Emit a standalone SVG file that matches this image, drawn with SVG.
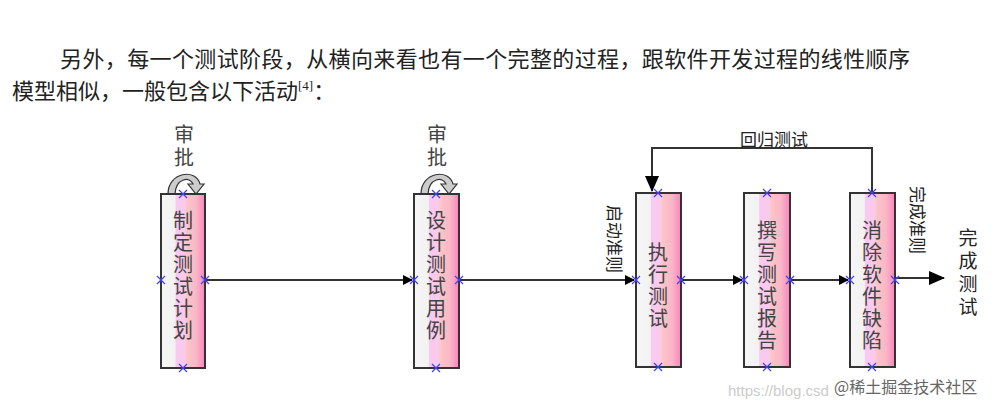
<svg xmlns="http://www.w3.org/2000/svg" width="1007" height="413" viewBox="0 0 1007 413">
<style>
.t{font-family:"Liberation Serif","Noto Sans CJK SC",serif;fill:#222}
.p{font-size:22px}
.n{font-size:20px;fill:#444;text-anchor:middle}
.box{fill:url(#g);stroke:#333;stroke-width:2}
.ln{stroke:#333;stroke-width:2;fill:none}
.x{stroke:#4040ff;stroke-width:1.2}
.lp{fill:#ccc;stroke:#333;stroke-width:1.2}
</style>
<defs>
<linearGradient id="g" x1="0" x2="1" y1="0" y2="0">
<stop offset="0" stop-color="#f6f6f6"/><stop offset="0.32" stop-color="#f2f2f2"/>
<stop offset="0.34" stop-color="#fac8f4"/><stop offset="0.55" stop-color="#f9cbe8"/>
<stop offset="0.6" stop-color="#fcc4c4"/><stop offset="0.8" stop-color="#fbb6c8"/>
<stop offset="1" stop-color="#f884bc"/></linearGradient>
<marker id="a" markerWidth="10" markerHeight="10" refX="9" refY="5" orient="auto" markerUnits="userSpaceOnUse" viewBox="0 0 10 10"><path d="M0,0L10,5L0,10z" fill="#000"/></marker>
<marker id="a2" markerWidth="16" markerHeight="16" refX="15" refY="8" orient="auto" markerUnits="userSpaceOnUse" viewBox="0 0 16 16"><path d="M0,1L16,8L0,15z" fill="#000"/></marker>
<g id="xm"><path class="x" d="M-4,-4L4,4M-4,4L4,-4"/></g>
</defs>
<text class="t p" x="60" y="67" textLength="850">另外，每一个测试阶段，从横向来看也有一个完整的过程，跟软件开发过程的线性顺序</text>
<text class="t p" x="12" y="99">模型相似，一般包含以下活动<tspan font-size="13" dy="-9">[4]</tspan><tspan dy="9">：</tspan></text>
<g id="connectors">
<path class="ln" d="M205,280H412" marker-end="url(#a)"/>
<path class="ln" d="M459,280H634" marker-end="url(#a)"/>
<path class="ln" d="M681,280H742" marker-end="url(#a)"/>
<path class="ln" d="M790,280H848" marker-end="url(#a)"/>
<path class="ln" d="M872,193V148H652V191" marker-end="url(#a2)"/>
<path class="ln" d="M895,278H944" marker-end="url(#a2)"/>
<path class="lp" d="M168,194C168,172 196,168 200,184L204,184L196,194L188,184L193,184C190,176 176,178 175,194Z"/>
<path class="lp" d="M421,194C421,172 449,168 453,184L457,184L449,194L441,184L446,184C443,176 429,178 428,194Z"/>
<text class="t" font-size="17" x="774" y="146" text-anchor="middle">回归测试</text>
<text class="t" font-size="17" fill="#333" transform="translate(608,205) rotate(90)">启动准则</text>
<text class="t" font-size="17" fill="#333" transform="translate(911,186) rotate(90)">完成准则</text>
<text class="t" font-size="19" fill="#444" x="968" y="245" text-anchor="middle"><tspan x="968">完</tspan><tspan x="968" dy="23">成</tspan><tspan x="968" dy="23">测</tspan><tspan x="968" dy="23">试</tspan></text>
<text class="t n" x="184" y="142"><tspan x="184">审</tspan><tspan x="184" dy="23">批</tspan></text>
<text class="t n" x="437" y="142"><tspan x="437">审</tspan><tspan x="437" dy="23">批</tspan></text>
</g>
<g id="n1"><rect class="box" x="161" y="194" width="44" height="174"/>
<text class="t n" x="183" y="228"><tspan x="183">制</tspan><tspan x="183" dy="22">定</tspan><tspan x="183" dy="22">测</tspan><tspan x="183" dy="22">试</tspan><tspan x="183" dy="22">计</tspan><tspan x="183" dy="22">划</tspan></text>
<use href="#xm" x="183" y="194"/><use href="#xm" x="183" y="368"/><use href="#xm" x="161" y="280"/><use href="#xm" x="205" y="280"/></g>
<g id="n2"><rect class="box" x="414" y="194" width="45" height="174"/>
<text class="t n" x="436" y="228"><tspan x="436">设</tspan><tspan x="436" dy="22">计</tspan><tspan x="436" dy="22">测</tspan><tspan x="436" dy="22">试</tspan><tspan x="436" dy="22">用</tspan><tspan x="436" dy="22">例</tspan></text>
<use href="#xm" x="436" y="194"/><use href="#xm" x="436" y="368"/><use href="#xm" x="414" y="280"/><use href="#xm" x="459" y="280"/></g>
<g id="n3"><rect class="box" x="636" y="193" width="45" height="174"/>
<text class="t n" x="658" y="260"><tspan x="658">执</tspan><tspan x="658" dy="22">行</tspan><tspan x="658" dy="22">测</tspan><tspan x="658" dy="22">试</tspan></text>
<use href="#xm" x="658" y="193"/><use href="#xm" x="658" y="367"/><use href="#xm" x="636" y="280"/><use href="#xm" x="681" y="280"/></g>
<g id="n4"><rect class="box" x="744" y="193" width="46" height="174"/>
<text class="t n" x="767" y="238"><tspan x="767">撰</tspan><tspan x="767" dy="22">写</tspan><tspan x="767" dy="22">测</tspan><tspan x="767" dy="22">试</tspan><tspan x="767" dy="22">报</tspan><tspan x="767" dy="22">告</tspan></text>
<use href="#xm" x="767" y="193"/><use href="#xm" x="767" y="367"/><use href="#xm" x="744" y="280"/><use href="#xm" x="790" y="280"/></g>
<g id="n5"><rect class="box" x="850" y="193" width="45" height="174"/>
<text class="t n" x="872" y="238"><tspan x="872">消</tspan><tspan x="872" dy="22">除</tspan><tspan x="872" dy="22">软</tspan><tspan x="872" dy="22">件</tspan><tspan x="872" dy="22">缺</tspan><tspan x="872" dy="22">陷</tspan></text>
<use href="#xm" x="872" y="193"/><use href="#xm" x="872" y="367"/><use href="#xm" x="850" y="280"/><use href="#xm" x="895" y="280"/></g>
<text x="728" y="396" font-family="Liberation Sans,sans-serif" font-size="15" fill="#ccc">https://blog.csd</text>
<text x="834" y="393" font-family="Noto Sans CJK SC,sans-serif" font-size="16" fill="#666">@稀土掘金技术社区</text>
</svg>
